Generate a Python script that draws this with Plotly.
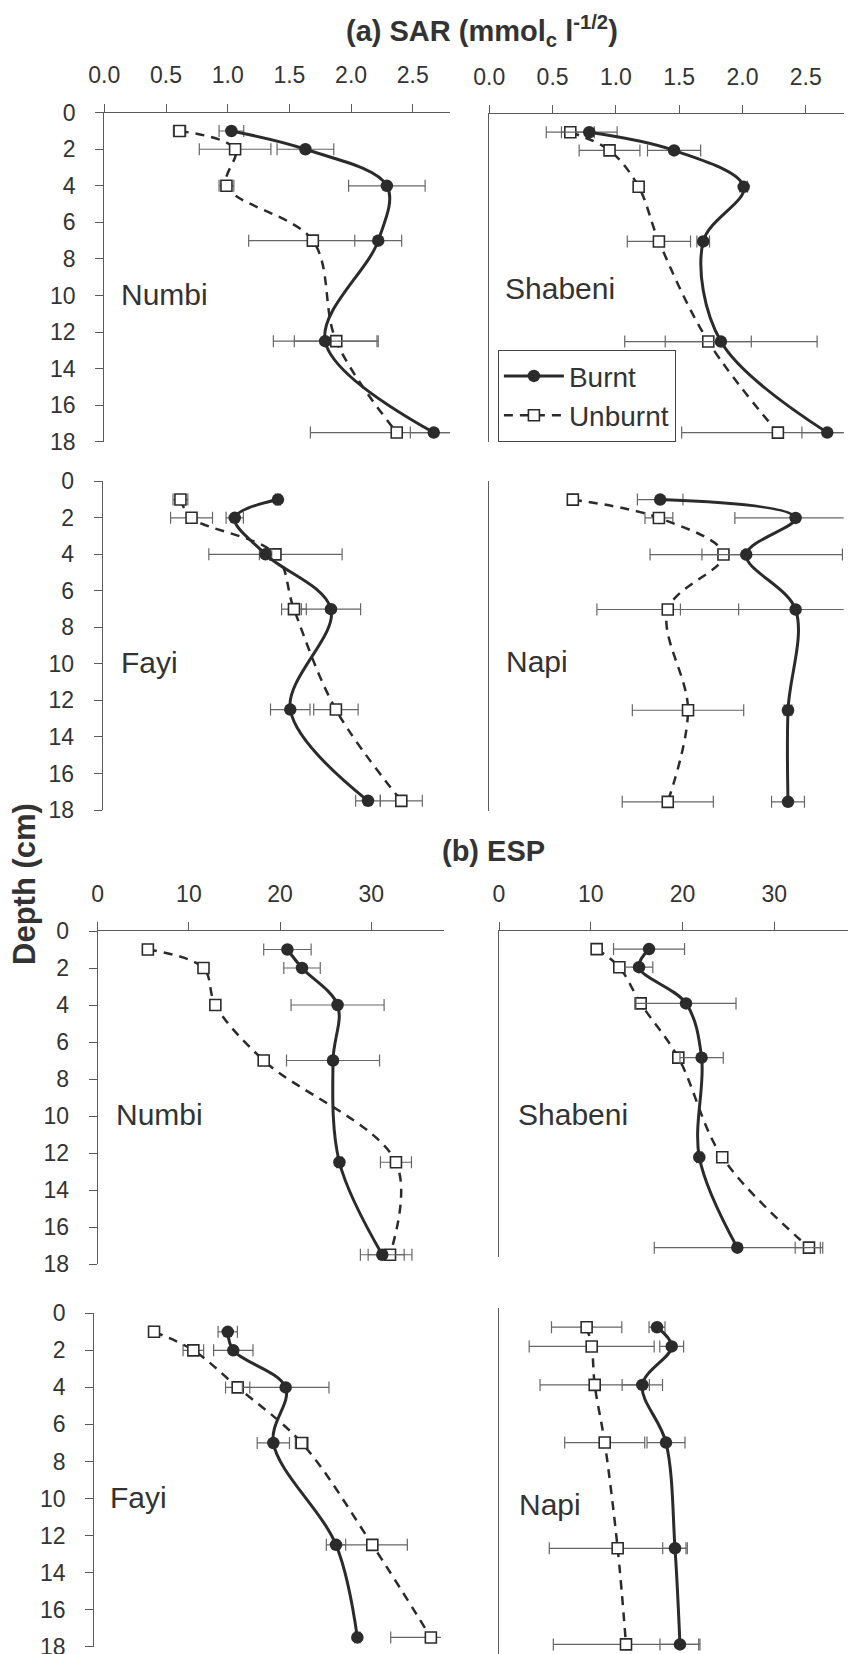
import plotly.graph_objects as go

W, H = 858, 1654

# ---------------- data ----------------
depth = [1, 2, 4, 7, 12.5, 17.5]
sites = ["Numbi", "Shabeni", "Fayi", "Napi"]

# SAR (mmolc l^-1/2)
sar_burnt = {
    "Numbi":   [1.03, 1.63, 2.29, 2.22, 1.79, 2.67],
    "Shabeni": [0.79, 1.46, 2.01, 1.69, 1.83, 2.67],
    "Fayi":    [1.42, 1.07, 1.32, 1.85, 1.52, 2.15],
    "Napi":    [1.35, 2.42, 2.03, 2.42, 2.36, 2.36],
}
sar_burnt_err = {
    "Numbi":   [0.10, 0.23, 0.31, 0.19, 0.42, 0.19],
    "Shabeni": [0.22, 0.21, 0.03, 0.05, 0.76, 0.20],
    "Fayi":    [0.02, 0.07, 0.05, 0.24, 0.16, 0.10],
    "Napi":    [0.18, 0.48, 0.76, 0.91, 0.03, 0.13],
}
sar_unburnt = {
    "Numbi":   [0.61, 1.06, 0.99, 1.69, 1.88, 2.37],
    "Shabeni": [0.64, 0.95, 1.18, 1.34, 1.73, 2.28],
    "Fayi":    [0.63, 0.72, 1.40, 1.55, 1.89, 2.42],
    "Napi":    [0.66, 1.34, 1.85, 1.41, 1.57, 1.41],
}
sar_unburnt_err = {
    "Numbi":   [0.05, 0.29, 0.06, 0.52, 0.34, 0.70],
    "Shabeni": [0.19, 0.24, 0.03, 0.25, 0.34, 0.76],
    "Fayi":    [0.06, 0.17, 0.54, 0.10, 0.18, 0.17],
    "Napi":    [0.00, 0.11, 0.17, 0.56, 0.44, 0.36],
}

# ESP (%)
esp_burnt = {
    "Numbi":   [20.8, 22.4, 26.3, 25.8, 26.5, 31.2],
    "Shabeni": [16.35, 15.26, 20.38, 22.08, 21.83, 25.97],
    "Fayi":    [14.63, 15.24, 20.98, 19.63, 26.5, 28.84],
    "Napi":    [17.22, 18.82, 15.62, 18.2, 19.18, 19.72],
}
esp_burnt_err = {
    "Numbi":   [2.6, 2.0, 5.1, 5.1, 0.3, 2.4],
    "Shabeni": [3.87, 1.5, 5.45, 2.36, 0.3, 9.05],
    "Fayi":    [1.06, 2.16, 4.75, 1.77, 1.06, 0.3],
    "Napi":    [0.87, 1.3, 2.2, 2.07, 1.34, 2.18],
}
esp_unburnt = {
    "Numbi":   [5.5, 11.6, 12.9, 18.2, 32.7, 32.05],
    "Shabeni": [10.64, 13.11, 15.44, 19.54, 24.33, 33.78],
    "Fayi":    [6.55, 10.86, 15.72, 22.74, 30.48, 36.9],
    "Napi":    [9.55, 10.1, 10.43, 11.52, 12.93, 13.84],
}
esp_unburnt_err = {
    "Numbi":   [0.3, 0.3, 0.3, 0.3, 1.7, 2.4],
    "Shabeni": [0.3, 0.3, 0.3, 0.3, 0.3, 1.5],
    "Fayi":    [0.3, 1.13, 1.33, 0.7, 3.84, 4.4],
    "Napi":    [3.83, 6.81, 5.96, 4.36, 7.45, 7.92],
}

sar_ticks = [0.0, 0.5, 1.0, 1.5, 2.0, 2.5]
esp_ticks = [0, 10, 20, 30]
depth_ticks = [0, 2, 4, 6, 8, 10, 12, 14, 16, 18]

# ---------------- layout geometry (pixels) ----------------
# (variable, site, x-pixel domain, y-pixel domain (top,bottom), label pos (x,y))
panels = [
    ("SAR", "Numbi",   (104.3, 449.8), (112.7, 441.7), (119, 294)),
    ("SAR", "Shabeni", (489.3, 843.7), (114.0, 441.7), (503, 289)),
    ("SAR", "Fayi",    (102.7, 448.2), (481.3, 810.0), (119, 662)),
    ("SAR", "Napi",    (489.3, 843.7), (481.3, 811.0), (504, 661)),
    ("ESP", "Numbi",   (97.7, 444.3),  (931.0, 1264.0), (114, 1114)),
    ("ESP", "Shabeni", (499.0, 847.7), (931.0, 1256.7), (516, 1114)),
    ("ESP", "Fayi",    (94.3, 440.9),  (1313.3, 1646.7), (108, 1497)),
    ("ESP", "Napi",    (499.0, 847.7), (1308.0, 1654.0), (517, 1504)),
]

FONT = "Liberation Sans, Arial, sans-serif"
TXT = "#333333"
INK = "#2b2b2b"
AX = "#5a5a5a"
ERR = "#666666"

fig = go.Figure()
annotations = []

for i, (var, site, (x0, x1), (yt, yb), (lx, ly)) in enumerate(panels, start=1):
    xa = "x" if i == 1 else f"x{i}"
    ya = "y" if i == 1 else f"y{i}"
    if var == "SAR":
        b, be, u, ue = sar_burnt[site], sar_burnt_err[site], sar_unburnt[site], sar_unburnt_err[site]
        xr, tv, tt = [0, 2.8], sar_ticks, [f"{t:.1f}" for t in sar_ticks]
    else:
        b, be, u, ue = esp_burnt[site], esp_burnt_err[site], esp_unburnt[site], esp_unburnt_err[site]
        xr, tv, tt = [0, 38], esp_ticks, [str(t) for t in esp_ticks]
    show_leg = (i == 2)
    fig.add_trace(go.Scatter(
        x=u, y=depth, xaxis=xa, yaxis=ya, name="Unburnt", legendrank=2,
        mode="lines+markers", line=dict(color=INK, width=2.5, dash="9px,7px", shape="spline", smoothing=1),
        marker=dict(symbol="square", size=11, color="white", line=dict(color=INK, width=1.6)),
        error_x=dict(type="data", array=ue, visible=True, color=ERR, thickness=1.2, width=6),
        showlegend=show_leg, cliponaxis=False,
    ))
    fig.add_trace(go.Scatter(
        x=b, y=depth, xaxis=xa, yaxis=ya, name="Burnt", legendrank=1,
        mode="lines+markers", line=dict(color=INK, width=3, shape="spline", smoothing=1),
        marker=dict(symbol="circle", size=12.5, color=INK),
        error_x=dict(type="data", array=be, visible=True, color=ERR, thickness=1.2, width=6),
        showlegend=show_leg, cliponaxis=False,
    ))

    top_row = site in ("Numbi", "Shabeni")
    left_col = site in ("Numbi", "Fayi")
    xkey = "xaxis" if i == 1 else f"xaxis{i}"
    ykey = "yaxis" if i == 1 else f"yaxis{i}"
    xdict = dict(domain=[x0 / W, x1 / W], range=xr, anchor=ya, fixedrange=True,
                 showgrid=False, zeroline=False, automargin=False)
    if top_row:
        xdict.update(side="top", showline=True, linecolor=AX, linewidth=1.2,
                     ticks="outside", ticklen=8, tickcolor=AX, tickwidth=1.2,
                     tickvals=tv, ticktext=tt, ticklabelstandoff=11,
                     tickfont=dict(family=FONT, size=23, color=TXT))
    else:
        xdict.update(visible=False)
    ydict = dict(domain=[1 - yb / H, 1 - yt / H], range=[18, 0], anchor=xa, fixedrange=True,
                 showgrid=False, zeroline=False, showline=True, linecolor=AX, linewidth=1.2,
                 automargin=False)
    if left_col:
        ydict.update(ticks="outside", ticklen=8, tickcolor=AX, tickwidth=1.2,
                     tickvals=depth_ticks, ticklabelstandoff=15, ticklabeloverflow="allow",
                     tickfont=dict(family=FONT, size=23, color=TXT))
    else:
        ydict.update(ticks="", showticklabels=False)
    fig.update_layout({xkey: xdict, ykey: ydict})

    annotations.append(dict(text=site, x=lx / W, y=1 - ly / H, xref="paper", yref="paper",
                            xanchor="left", yanchor="middle", showarrow=False,
                            font=dict(family=FONT, size=30, color=TXT)))

annotations += [
    dict(text="<b>(a) SAR (mmol<sub>c</sub> l<sup>-1/2</sup>)</b>", x=482 / W, y=1 - 31 / H,
         xref="paper", yref="paper", xanchor="center", yanchor="middle", showarrow=False,
         font=dict(family=FONT, size=29, color=TXT)),
    dict(text="<b>(b) ESP</b>", x=493 / W, y=1 - 851 / H,
         xref="paper", yref="paper", xanchor="center", yanchor="middle", showarrow=False,
         font=dict(family=FONT, size=29, color=TXT)),
    dict(text="<b>Depth (cm)</b>", x=24 / W, y=1 - 884 / H, textangle=-90,
         xref="paper", yref="paper", xanchor="center", yanchor="middle", showarrow=False,
         font=dict(family=FONT, size=31, color=TXT)),
]

fig.update_layout(
    width=W, height=H, margin=dict(l=0, r=0, t=0, b=0, autoexpand=False),
    paper_bgcolor="white", plot_bgcolor="white",
    annotations=annotations,
    legend=dict(x=497.7 / W, y=1 - 350 / H, xanchor="left", yanchor="top",
                bordercolor="#444444", borderwidth=1.2, bgcolor="white",
                font=dict(family=FONT, size=28, color=TXT), itemwidth=60,
                tracegroupgap=0),
    font=dict(family=FONT, color=TXT),
)

fig.write_html("out.html")
